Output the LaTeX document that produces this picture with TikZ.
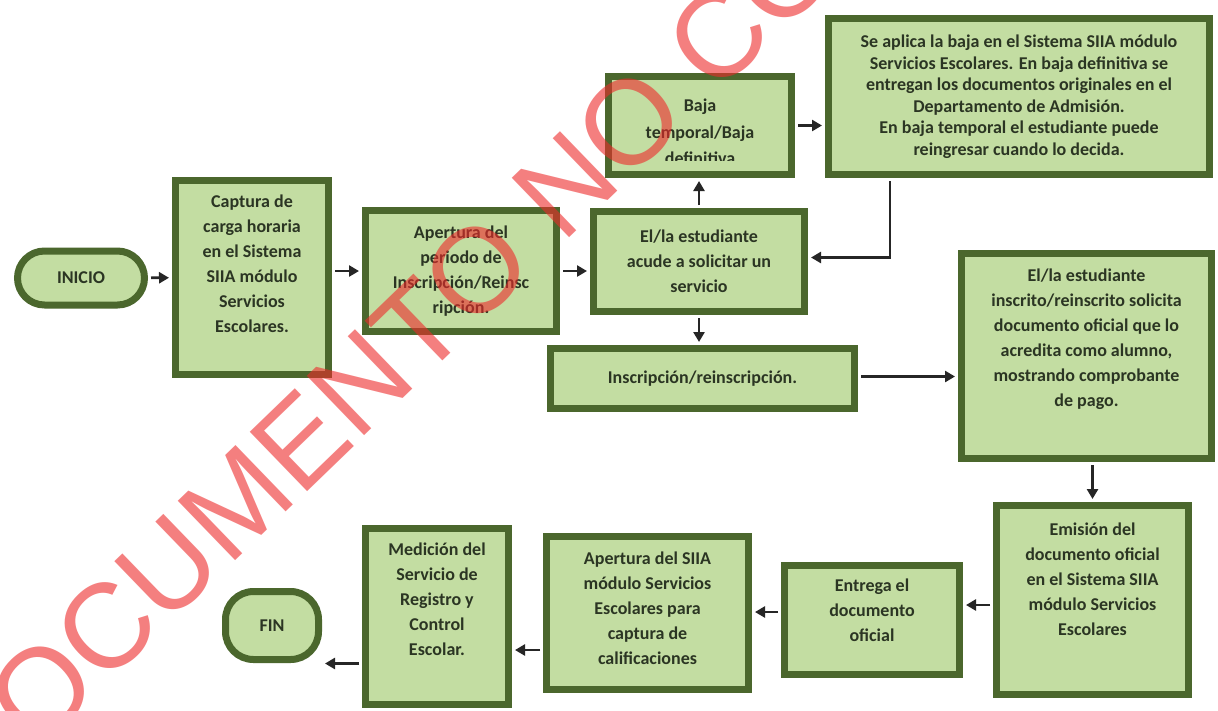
\documentclass[tikz,border=0pt]{standalone}
\usepackage{fontspec}
\setmainfont{Carlito}
\newfontfamily\wmfont{Liberation Sans}
\usetikzlibrary{arrows.meta,shadows}
\definecolor{leaf}{HTML}{C3DDA2}
\definecolor{moss}{HTML}{4B672D}
\definecolor{ink}{HTML}{2B3523}
\definecolor{stamp}{HTML}{EE2A2A}

\begin{document}
\begin{tikzpicture}[x=1pt,y=-1pt,>=Latex,
font=\fontsize{18}{25}\selectfont\bfseries,
box/.style={draw=moss,fill=leaf,line width=7pt,align=center,text=ink,inner sep=2pt,drop shadow={shadow xshift=2pt,shadow yshift=-3pt,opacity=.25}},
term/.style={box,rounded corners=#1},
arr/.style={-{Triangle[length=10pt,width=11pt]},line width=2.6pt,draw=black!85,shorten >=3pt,shorten <=3pt}]
\fill[white] (0,0) rectangle (1218,710);
\useasboundingbox (0,0) rectangle (1218,710);
% upper row
\node[term=27pt,minimum width=127pt,minimum height=54pt] (ini) at (81,278) {INICIO};
\node[box,minimum width=153pt,minimum height=194pt,text depth=28pt] (cap) at (252,277.5) {Captura de\\carga horaria\\en el Sistema\\SIIA módulo\\Servicios\\Escolares.};
\node[box,minimum width=191pt,minimum height=121pt] (ape1) at (461,271) {Apertura del\\periodo de\\Inscripción/Reinsc\\ripción.};
\node[box,minimum width=211pt,minimum height=100pt] (acude) at (699,261.5) {El/la estudiante\\acude a solicitar un\\servicio};
\node[box,minimum width=183pt,minimum height=98pt] (baja) at (700,125.5) {};
\begin{scope}
\clip (612,81) rectangle (788,160);
\node[text=ink,align=center,font=\fontsize{18}{26.5}\selectfont\bfseries] (bajat) at (700,132) {Baja\\temporal/Baja\\definitiva};
\end{scope}
\node[box,minimum width=381pt,minimum height=156pt,font=\fontsize{18}{21.5}\selectfont\bfseries] (apl) at (1019,96.5) {Se aplica la baja en el Sistema SIIA módulo\\Servicios Escolares. En baja definitiva se\\entregan los documentos originales en el\\Departamento de Admisión.\\En baja temporal el estudiante puede\\reingresar cuando lo decida.};
\node[box,minimum width=304pt,minimum height=60pt] (insc) at (702.5,378.5) {Inscripción/reinscripción.};
\node[box,minimum width=250pt,minimum height=205pt,text depth=36pt] (inscr) at (1086.5,356) {El/la estudiante\\inscrito/reinscrito solicita\\documento oficial que lo\\acredita como alumno,\\mostrando comprobante\\de pago.};
% lower row
\node[box,minimum width=192pt,minimum height=189pt,text depth=42pt] (emi) at (1092.5,600) {Emisión del\\documento oficial\\en el Sistema SIIA\\módulo Servicios\\Escolares};
\node[box,minimum width=175pt,minimum height=109pt,text depth=20pt] (ent) at (872,620) {Entrega el\\documento\\oficial};
\node[box,minimum width=202pt,minimum height=153pt,text depth=10pt] (ape2) at (647.5,613) {Apertura del SIIA\\módulo Servicios\\Escolares para\\captura de\\calificaciones};
\node[box,minimum width=143pt,minimum height=176pt,text depth=34pt] (med) at (437,616.5) {Medición del\\Servicio de\\Registro y\\Control\\Escolar.};
\node[term=28pt,minimum width=93pt,minimum height=68pt] (fin) at (272,625.5) {FIN};
% connectors
\draw[arr] (ini)--(cap);
\draw[arr] (cap.east |- ape1.west) -- (ape1.west);
\draw[arr] (ape1.east) -- (ape1.east -| acude.west);
\draw[arr] (acude.north) -- (acude.north |- baja.south);
\draw[arr] (baja.east) -- (baja.east -| apl.west);
\draw[arr] ([xshift=-129pt]apl.south) |- ([yshift=4pt]acude.east);
\draw[arr] (acude.south) -- (acude.south |- insc.north);
\draw[arr] ([yshift=2pt]insc.east) -- ([yshift=2pt]insc.east -| inscr.west);
\draw[arr] (emi.north |- inscr.south) -- (emi.north);
\draw[arr] ([yshift=-5pt]emi.west) -- ([yshift=-5pt]emi.west -| ent.east);
\draw[arr] ([yshift=8pt]ent.west) -- ([yshift=8pt]ent.west -| ape2.east);
\draw[arr] ([yshift=-37pt]ape2.west) -- ([yshift=-37pt]ape2.west -| med.east);
\draw[arr] ([yshift=-47pt]med.west) -- ([yshift=-47pt]med.west -| fin.east);
% watermark
\begin{scope}
\clip (0,0) rectangle (1218,710);
\node[rotate=44,anchor=base west,inner sep=0pt,text=stamp,opacity=.6,font=\wmfont\mdseries\fontsize{120}{120}\selectfont] (wm) at (-26,813) {DOCUMENTO NO CONTROLADO};
\end{scope}
\end{tikzpicture}
\end{document}
